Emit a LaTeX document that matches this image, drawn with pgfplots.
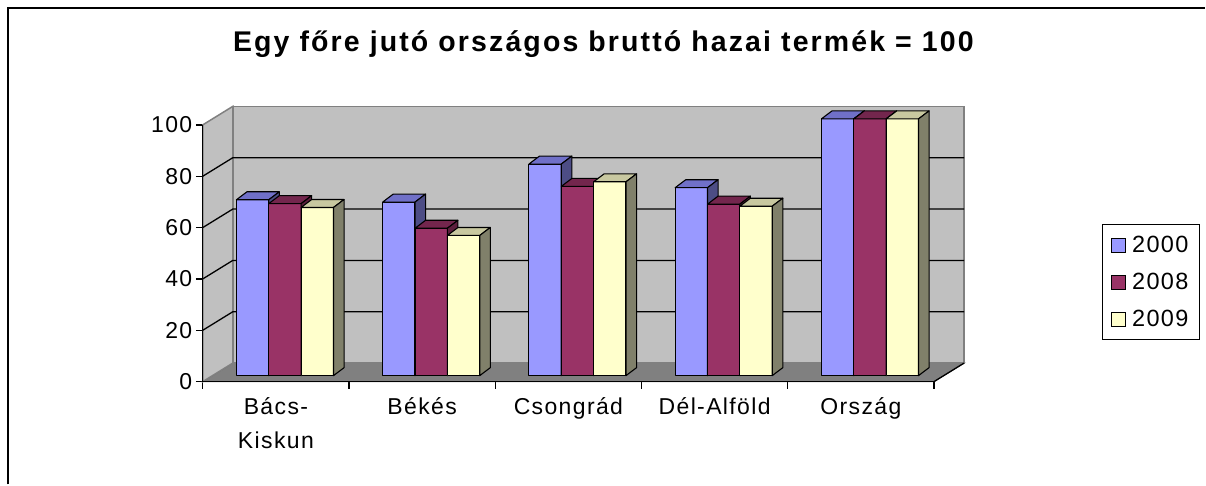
\documentclass[border=0pt]{standalone}
\usepackage{fontspec}
\setmainfont{Liberation Sans}[LetterSpace=6]
\newfontfamily\titlefont{Liberation Sans}[LetterSpace=7.5]
\usepackage{pgfplots}
\pgfplotsset{compat=1.18}
\definecolor{fA}{HTML}{9999FF}\definecolor{tA}{HTML}{7070C8}\definecolor{sA}{HTML}{4D4D85}
\definecolor{fB}{HTML}{993366}\definecolor{tB}{HTML}{73264D}\definecolor{sB}{HTML}{5C1F3D}
\definecolor{fC}{HTML}{FFFFCC}\definecolor{tC}{HTML}{C8C8A0}\definecolor{sC}{HTML}{80806A}
\definecolor{wall}{HTML}{C0C0C0}\definecolor{floorc}{HTML}{808080}
% #1 category, #2 series, #3 value, #4 front, #5 top, #6 side
\newcommand\tdbar[6]{%
 \pgfmathsetmacro\xa{#1-0.270+#2*0.2213}%
 \pgfmathsetmacro\xb{\xa+0.2213}%
 \pgfmathsetmacro\xc{\xa+0.072}%
 \pgfmathsetmacro\xd{\xb+0.072}%
 \pgfmathsetmacro\yt{2.33+#3}%
 \pgfmathsetmacro\ytt{\yt+3.1}%
 \edef\tmp{%
 \noexpand\addplot[forget plot, fill=#4, draw=black, line width=1.1pt, line join=round] coordinates {(\xa,2.33) (\xb,2.33) (\xb,\yt) (\xa,\yt)} -- cycle;
 \noexpand\addplot[forget plot, fill=#5, draw=black, line width=1.1pt, line join=round] coordinates {(\xa,\yt) (\xc,\ytt) (\xd,\ytt) (\xb,\yt)} -- cycle;
 \noexpand\addplot[forget plot, fill=#6, draw=black, line width=1.1pt, line join=round] coordinates {(\xb,2.33) (\xd,5.43) (\xd,\ytt) (\xb,\yt)} -- cycle;
 }\tmp
}
\begin{document}
\begin{tikzpicture}[x=1pt,y=1pt]
\path (0,0) rectangle (1206,485);
\draw[line width=2.5pt] (8,0) -- (8,477) -- (1206,477);
\node[font=\titlefont\bfseries\fontsize{28.5}{32}\selectfont, anchor=base] at (604,433) {Egy főre jutó országos bruttó hazai termék = 100};
\begin{axis}[
 at={(203pt,103pt)}, anchor=south west, scale only axis,
 x=146.4pt, y=2.57pt,
 xmin=-0.5, xmax=4.705, ymin=0, ymax=107.2,
 axis lines*=left, axis line style={draw=none},
 clip=false,
 ytick={0,20,40,60,80,100},
 xtick={-0.5,0.5,1.5,2.5,3.5,4.5}, xticklabels={,,,,,},
 extra x ticks={0,1,2,3,4},
 extra x tick labels={{Bács-\\Kiskun},Békés,Csongrád,Dél-Alföld,Ország},
 extra x tick style={major tick length=0pt, tick style={draw=none}},
 tick align=outside, major tick length=7pt, tick style={black, line width=1.3pt},
 tick label style={font=\fontsize{23}{34}\selectfont},
 x tick label style={align=center, yshift=-12pt},
 /pgf/number format/assume math mode=true,
 legend style={at={(1.181,0.5735)}, anchor=north west, draw=black, line width=1pt,
   font=\fontsize{23.5}{26}\selectfont, inner xsep=9pt, inner ysep=10pt, row sep=15pt, column sep=4pt},
 legend cell align=left,
 legend image code/.code={\draw[#1, draw=black, line width=0.8pt] (0pt,-7pt) rectangle (14pt,7pt);},
]
% walls and floor
\addplot[forget plot, fill=floorc, draw=floorc!80!black, line width=1pt] coordinates {(-0.5,0) (4.5,0) (4.705,7.2) (-0.295,7.2)} -- cycle;
\addplot[forget plot, fill=wall, draw=floorc, line width=1.5pt] coordinates {(-0.295,7.2) (4.705,7.2) (4.705,107.2) (-0.295,107.2)} -- cycle;
\addplot[forget plot, fill=wall, draw=floorc, line width=1.5pt] coordinates {(-0.5,0) (-0.295,7.2) (-0.295,107.2) (-0.5,100)} -- cycle;
\addplot[forget plot, black, line width=1.3pt] coordinates {(-0.5,20) (-0.295,27.2) (4.705,27.2)};
\addplot[forget plot, black, line width=1.3pt] coordinates {(-0.5,40) (-0.295,47.2) (4.705,47.2)};
\addplot[forget plot, black, line width=1.3pt] coordinates {(-0.5,60) (-0.295,67.2) (4.705,67.2)};
\addplot[forget plot, black, line width=1.3pt] coordinates {(-0.5,80) (-0.295,87.2) (4.705,87.2)};
\addplot[forget plot, black, line width=1.3pt] coordinates {(4.5,0) (4.705,7.2)};
% bars: Bács-Kiskun, Békés, Csongrád, Dél-Alföld, Ország
\tdbar{0}{0}{68.5}{fA}{tA}{sA}\tdbar{0}{1}{67.0}{fB}{tB}{sB}\tdbar{0}{2}{65.5}{fC}{tC}{sC}
\tdbar{1}{0}{67.6}{fA}{tA}{sA}\tdbar{1}{1}{57.4}{fB}{tB}{sB}\tdbar{1}{2}{54.6}{fC}{tC}{sC}
\tdbar{2}{0}{82.4}{fA}{tA}{sA}\tdbar{2}{1}{73.7}{fB}{tB}{sB}\tdbar{2}{2}{75.5}{fC}{tC}{sC}
\tdbar{3}{0}{73.2}{fA}{tA}{sA}\tdbar{3}{1}{66.8}{fB}{tB}{sB}\tdbar{3}{2}{66.0}{fC}{tC}{sC}
\tdbar{4}{0}{100}{fA}{tA}{sA}\tdbar{4}{1}{100}{fB}{tB}{sB}\tdbar{4}{2}{100}{fC}{tC}{sC}
% front axis lines
\addplot[forget plot, black, line width=1.3pt] coordinates {(-0.5,100) (-0.5,0) (4.5,0)};
\addlegendimage{fill=fA}\addlegendentry{2000}
\addlegendimage{fill=fB}\addlegendentry{2008}
\addlegendimage{fill=fC}\addlegendentry{2009}
\end{axis}
\end{tikzpicture}
\end{document}
